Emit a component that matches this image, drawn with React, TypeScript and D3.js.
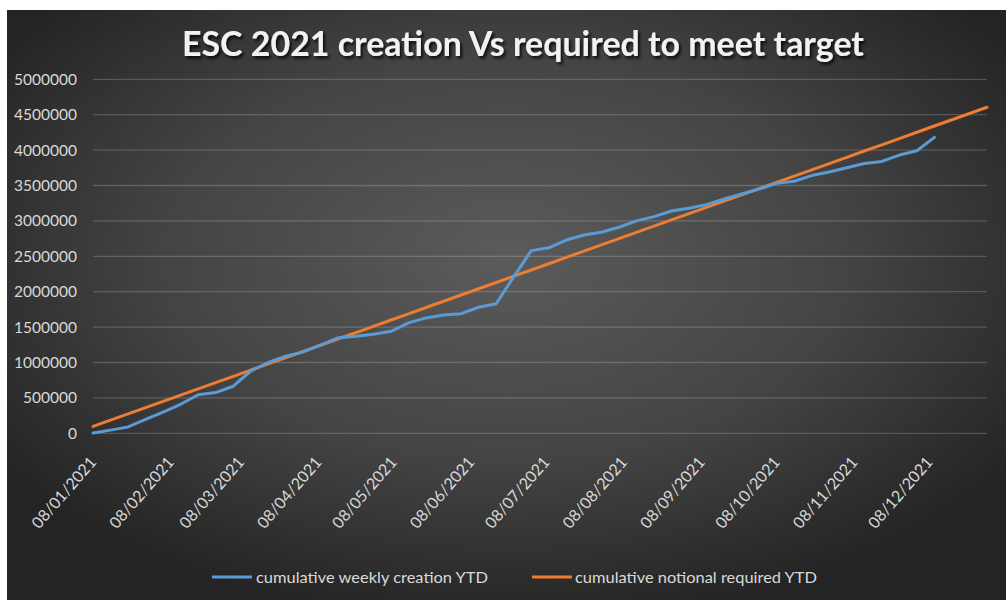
import React from "react";
import * as d3 from "d3";

const weekDates = [
  "2021-01-08","2021-01-15","2021-01-22","2021-01-29",
  "2021-02-05","2021-02-12","2021-02-19","2021-02-26",
  "2021-03-05","2021-03-12","2021-03-19","2021-03-26",
  "2021-04-02","2021-04-09","2021-04-16","2021-04-23","2021-04-30",
  "2021-05-07","2021-05-14","2021-05-21","2021-05-28",
  "2021-06-04","2021-06-11","2021-06-18","2021-06-25",
  "2021-07-02","2021-07-09","2021-07-16","2021-07-23","2021-07-30",
  "2021-08-06","2021-08-13","2021-08-20","2021-08-27",
  "2021-09-03","2021-09-10","2021-09-17","2021-09-24",
  "2021-10-01","2021-10-08","2021-10-15","2021-10-22","2021-10-29",
  "2021-11-05","2021-11-12","2021-11-19","2021-11-26",
  "2021-12-03","2021-12-10","2021-12-17","2021-12-24","2021-12-31",
];

const weeklyCreation = [
  5000, 45000, 90000, 195000, 300000, 410000, 545000, 575000, 665000, 880000,
  1000000, 1090000, 1150000, 1250000, 1350000, 1370000, 1400000, 1440000, 1560000, 1630000,
  1670000, 1690000, 1780000, 1830000, 2210000, 2580000, 2620000, 2730000, 2800000, 2840000,
  2910000, 3000000, 3060000, 3140000, 3180000, 3230000, 3310000, 3380000, 3450000, 3530000,
  3560000, 3640000, 3690000, 3750000, 3810000, 3840000, 3930000, 3990000, 4180000,
];

const notionalRequired = [
  97000, 185000, 274000, 362000, 451000, 539000, 627000, 716000, 804000, 893000,
  981000, 1070000, 1158000, 1246000, 1335000, 1423000, 1511000, 1600000, 1688000, 1777000,
  1865000, 1953000, 2042000, 2130000, 2219000, 2307000, 2395000, 2484000, 2572000, 2661000,
  2749000, 2837000, 2926000, 3014000, 3103000, 3191000, 3279000, 3368000, 3456000, 3545000,
  3633000, 3721000, 3810000, 3898000, 3987000, 4075000, 4163000, 4252000, 4340000, 4429000,
  4517000, 4605000,
];

const xTickDates = [
  "2021-01-08","2021-02-08","2021-03-08","2021-04-08","2021-05-08","2021-06-08",
  "2021-07-08","2021-08-08","2021-09-08","2021-10-08","2021-11-08","2021-12-08",
];
const xTickLabels = [
  "08/01/2021","08/02/2021","08/03/2021","08/04/2021","08/05/2021","08/06/2021",
  "08/07/2021","08/08/2021","08/09/2021","08/10/2021","08/11/2021","08/12/2021",
];
const yTicks = [0, 500000, 1000000, 1500000, 2000000, 2500000, 3000000, 3500000, 4000000, 4500000, 5000000];

const title = "ESC 2021 creation Vs required to meet target";
const seriesNames = ["cumulative weekly creation YTD", "cumulative notional required YTD"];
const colors = ["#5b9bd5", "#ed7d31"];

const parse = d3.utcParse("%Y-%m-%d");

export default function App() {
  const W = 1006, H = 600;
  const dates = weekDates.map((d) => parse(d) as Date);
  const x = d3.scaleUtc().domain([dates[0], dates[dates.length - 1]]).range([93, 987]);
  const y = d3.scaleLinear().domain([0, 5000000]).range([433.3, 79.3]);

  const line = d3
    .line<[Date, number]>()
    .x((d) => x(d[0]))
    .y((d) => y(d[1]));

  const blueData: [Date, number][] = weeklyCreation.map((v, i) => [dates[i], v]);
  const orangeData: [Date, number][] = notionalRequired.map((v, i) => [dates[i], v]);

  const font = "Lato, 'Open Sans', sans-serif";

  return (
    <svg
      width={W}
      height={H}
      style={{ position: "absolute", left: 0, top: 0, background: "#ffffff" }}
    >
      <defs>
        <radialGradient id="bg" cx="50%" cy="42%" r="62%">
          <stop offset="0%" stopColor="#5b5b5b" />
          <stop offset="55%" stopColor="#444444" />
          <stop offset="100%" stopColor="#242424" />
        </radialGradient>
        <filter id="shadow" x="-10%" y="-30%" width="120%" height="160%">
          <feDropShadow dx="2" dy="2.5" stdDeviation="1.5" floodColor="#000" floodOpacity="0.8" />
        </filter>
      </defs>
      <rect x={7} y={10} width={999} height={590} fill="url(#bg)" />

      <text
        x={523}
        y={56}
        textAnchor="middle"
        fontFamily={font}
        fontWeight="bold"
        fontSize={35}
        fill="#f2f2f2"
        textLength={682}
        lengthAdjust="spacingAndGlyphs"
        filter="url(#shadow)"
      >
        {title}
      </text>

      {yTicks.map((t) => (
        <g key={t}>
          <line x1={93} x2={987} y1={y(t)} y2={y(t)} stroke="#ffffff" strokeOpacity={0.18} strokeWidth={1.3} />
          <text
            x={77}
            y={y(t)}
            dy="0.36em"
            textAnchor="end"
            fontFamily={font}
            fontSize={15.5}
            fill="#d9d9d9"
          >
            {t}
          </text>
        </g>
      ))}

      {xTickDates.map((d, i) => {
        const tx = x(parse(d) as Date);
        return (
          <text
            key={d}
            transform={`translate(${tx},${459}) rotate(-49)`}
            textAnchor="end"
            dy="0.35em"
            fontFamily={font}
            fontSize={16}
            fill="#d9d9d9"
          >
            {xTickLabels[i]}
          </text>
        );
      })}

      <path d={line(orangeData) || ""} fill="none" stroke={colors[1]} strokeWidth={3} strokeLinejoin="round" strokeLinecap="round" />
      <path d={line(blueData) || ""} fill="none" stroke={colors[0]} strokeWidth={3} strokeLinejoin="round" strokeLinecap="round" />

      <g>
        <line x1={212} x2={252} y1={577} y2={577} stroke={colors[0]} strokeWidth={3} />
        <text x={256} y={577} dy="0.35em" fontFamily={font} fontSize={16} fill="#d9d9d9" textLength={232} lengthAdjust="spacingAndGlyphs">
          {seriesNames[0]}
        </text>
        <line x1={532} x2={572} y1={577} y2={577} stroke={colors[1]} strokeWidth={3} />
        <text x={575} y={577} dy="0.35em" fontFamily={font} fontSize={16} fill="#d9d9d9" textLength={242} lengthAdjust="spacingAndGlyphs">
          {seriesNames[1]}
        </text>
      </g>
    </svg>
  );
}
